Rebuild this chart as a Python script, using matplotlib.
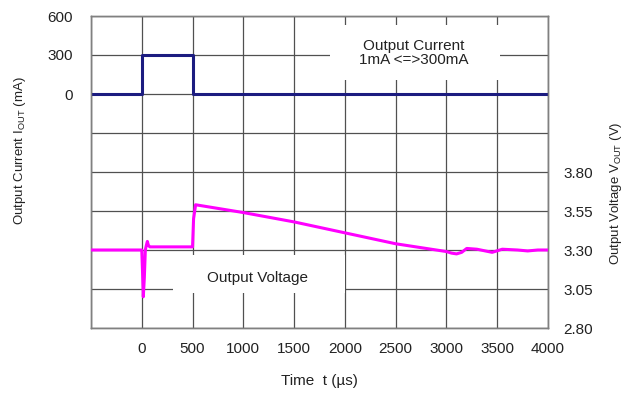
import matplotlib
matplotlib.use("Agg")
import matplotlib.pyplot as plt
from matplotlib.patches import Rectangle
import numpy as np

plt.rcParams['font.family'] = ['Liberation Sans', 'DejaVu Sans']
plt.rcParams['mathtext.fontset'] = 'custom'
plt.rcParams['mathtext.rm'] = 'Liberation Sans'

# Data
t_current = [-500, 0, 500, 4000]
i_current = [0, 300, 0, 0]

t_voltage = [-500, 0, 8, 15, 25, 35, 45, 55, 65, 80, 500, 510, 530, 1000, 1500,
             2000, 2500, 3000, 3050, 3100, 3150, 3200, 3300, 3450, 3550, 3700,
             3800, 3900, 4000]
v_voltage = [3.30, 3.30, 3.15, 3.00, 3.12, 3.30, 3.33, 3.355, 3.33, 3.32, 3.32,
             3.50, 3.59, 3.54, 3.48, 3.41, 3.34, 3.29, 3.28, 3.275, 3.285, 3.31,
             3.305, 3.285, 3.305, 3.30, 3.294, 3.30, 3.30]

x_ticks = [-500, 0, 500, 1000, 1500, 2000, 2500, 3000, 3500, 4000]
x_labels = ['', '0', '500', '1000', '1500', '2000', '2500', '3000', '3500', '4000']
i_ticks = [-1800, -1500, -1200, -900, -600, -300, 0, 300, 600]
i_labels = ['', '', '', '', '', '', '0', '300', '600']
v_ticks = [2.80, 3.05, 3.30, 3.55, 3.80]
v_labels = ['2.80', '3.05', '3.30', '3.55', '3.80']

W, H = 635, 394
FS = 11
YFS = 9.5
TC = '#222222'
fig = plt.figure(figsize=(W / 100, H / 100), dpi=100)
ax1 = fig.add_axes([91 / W, 1 - 328 / H, 457 / W, 312 / H])
ax2 = ax1.twinx()

grid_color = '#505050'
ax1.set_xlim(-500, 4000)
ax1.set_ylim(-1800, 600)
ax1.set_xticks(x_ticks)
ax1.set_xticklabels(x_labels)
ax1.set_yticks(i_ticks)
ax1.set_yticklabels(i_labels)
ax1.set_axisbelow(True)
ax1.grid(True, color=grid_color, linewidth=0.9)
ax1.tick_params(axis='both', length=0, labelsize=FS, colors=TC)
ax1.tick_params(axis='x', pad=10)
ax1.tick_params(axis='y', pad=13)

ax2.set_ylim(2.80, 4.80)
ax2.set_yticks(v_ticks)
ax2.set_yticklabels(v_labels)
ax2.tick_params(axis='y', length=0, labelsize=FS, pad=11, colors=TC)

for ax in (ax1, ax2):
    for s in ax.spines.values():
        s.set_color('#808080')
        s.set_linewidth(1.0)

# White annotation boxes covering the grid
ax1.add_patch(Rectangle((0.523, 0.795), 0.372, 0.176, transform=ax1.transAxes,
                        facecolor='white', edgecolor='none', zorder=1))
ax1.add_patch(Rectangle((0.179, 0.112), 0.376, 0.122, transform=ax1.transAxes,
                        facecolor='white', edgecolor='none', zorder=1))
ax1.text(0.707, 0.881, 'Output Current\n1mA <=>300mA', transform=ax1.transAxes,
         ha='center', va='center', fontsize=FS, color=TC, zorder=2,
         linespacing=1.0)
ax1.text(0.364, 0.160, 'Output Voltage', transform=ax1.transAxes,
         ha='center', va='center', fontsize=FS, color=TC, zorder=2)

ax1.step(t_current, i_current, where='post', color='#1c1c80', linewidth=2.2,
         zorder=3)
ax2.plot(t_voltage, v_voltage, color='#ff00ff', linewidth=2.2, zorder=3)

fig.text(20 / W, 1 - 151 / H, r'Output Current $\mathregular{I_{OUT}}$ (mA)',
         rotation=90, ha='center', va='center', fontsize=YFS, color=TC)
fig.text(616 / W, 1 - 193 / H, r'Output Voltage $\mathregular{V_{OUT}}$ (V)',
         rotation=90, ha='center', va='center', fontsize=YFS, color=TC)
fig.text(319 / W, 1 - 381 / H, 'Time  t (µs)', ha='center', va='center',
         fontsize=FS, color=TC)

fig.savefig('out.png', dpi=100)
